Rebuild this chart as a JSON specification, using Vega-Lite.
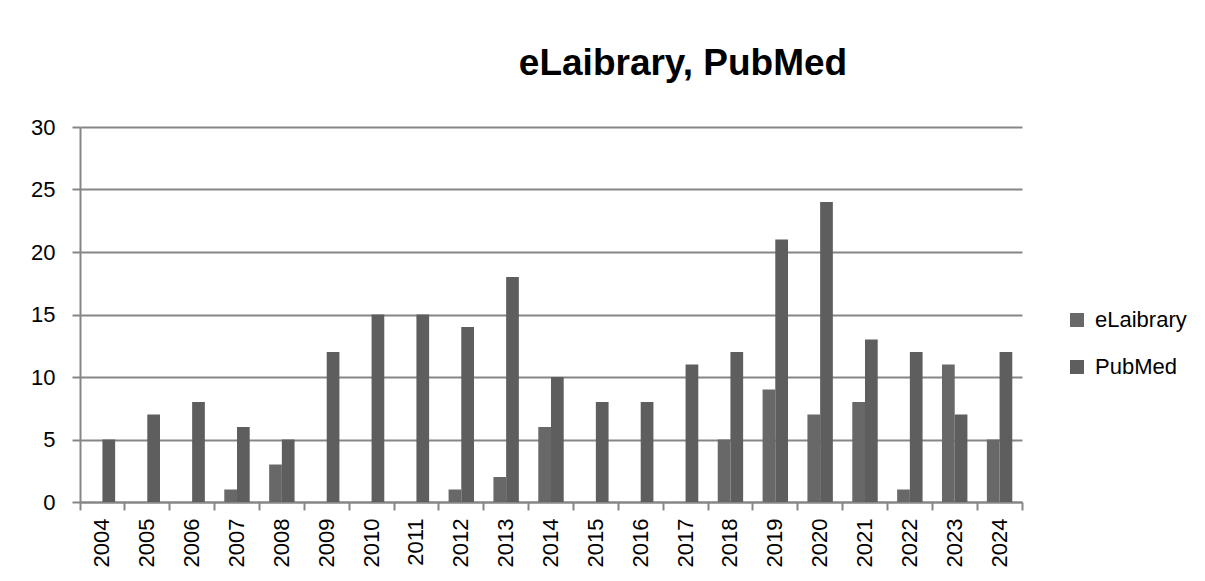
{
  "$schema": "https://vega.github.io/schema/vega-lite/v6.json",
  "width": 942,
  "height": 375,
  "autosize": {"type": "none"},
  "padding": {"left": 80, "top": 127, "right": 183, "bottom": 79},
  "background": "white",
  "title": {
    "text": "eLaibrary, PubMed",
    "fontSize": 37,
    "fontWeight": "bold",
    "font": "Liberation Sans",
    "color": "black",
    "anchor": "middle",
    "frame": "group",
    "dx": 132,
    "offset": 33
  },
  "data": {
    "values": [
      {"year": "2004", "source": "eLaibrary", "value": 0},
      {"year": "2005", "source": "eLaibrary", "value": 0},
      {"year": "2006", "source": "eLaibrary", "value": 0},
      {"year": "2007", "source": "eLaibrary", "value": 1},
      {"year": "2008", "source": "eLaibrary", "value": 3},
      {"year": "2009", "source": "eLaibrary", "value": 0},
      {"year": "2010", "source": "eLaibrary", "value": 0},
      {"year": "2011", "source": "eLaibrary", "value": 0},
      {"year": "2012", "source": "eLaibrary", "value": 1},
      {"year": "2013", "source": "eLaibrary", "value": 2},
      {"year": "2014", "source": "eLaibrary", "value": 6},
      {"year": "2015", "source": "eLaibrary", "value": 0},
      {"year": "2016", "source": "eLaibrary", "value": 0},
      {"year": "2017", "source": "eLaibrary", "value": 0},
      {"year": "2018", "source": "eLaibrary", "value": 5},
      {"year": "2019", "source": "eLaibrary", "value": 9},
      {"year": "2020", "source": "eLaibrary", "value": 7},
      {"year": "2021", "source": "eLaibrary", "value": 8},
      {"year": "2022", "source": "eLaibrary", "value": 1},
      {"year": "2023", "source": "eLaibrary", "value": 11},
      {"year": "2024", "source": "eLaibrary", "value": 5},
      {"year": "2004", "source": "PubMed", "value": 5},
      {"year": "2005", "source": "PubMed", "value": 7},
      {"year": "2006", "source": "PubMed", "value": 8},
      {"year": "2007", "source": "PubMed", "value": 6},
      {"year": "2008", "source": "PubMed", "value": 5},
      {"year": "2009", "source": "PubMed", "value": 12},
      {"year": "2010", "source": "PubMed", "value": 15},
      {"year": "2011", "source": "PubMed", "value": 15},
      {"year": "2012", "source": "PubMed", "value": 14},
      {"year": "2013", "source": "PubMed", "value": 18},
      {"year": "2014", "source": "PubMed", "value": 10},
      {"year": "2015", "source": "PubMed", "value": 8},
      {"year": "2016", "source": "PubMed", "value": 8},
      {"year": "2017", "source": "PubMed", "value": 11},
      {"year": "2018", "source": "PubMed", "value": 12},
      {"year": "2019", "source": "PubMed", "value": 21},
      {"year": "2020", "source": "PubMed", "value": 24},
      {"year": "2021", "source": "PubMed", "value": 13},
      {"year": "2022", "source": "PubMed", "value": 12},
      {"year": "2023", "source": "PubMed", "value": 7},
      {"year": "2024", "source": "PubMed", "value": 12}
    ]
  },
  "mark": {"type": "bar"},
  "encoding": {
    "x": {
      "field": "year",
      "type": "nominal",
      "scale": {"paddingInner": 0, "paddingOuter": 0},
      "axis": {
        "title": null,
        "labelAngle": -90,
        "labelFontSize": 22,
        "labelPadding": 8,
        "tickExtra": true,
        "bandPosition": 1,
        "tickSize": 8,
        "tickWidth": 2,
        "tickColor": "#868686",
        "domainColor": "#868686",
        "domainWidth": 2,
        "grid": false
      }
    },
    "xOffset": {
      "field": "source",
      "type": "nominal",
      "sort": ["eLaibrary", "PubMed"],
      "scale": {"paddingInner": 0, "paddingOuter": 0.765}
    },
    "y": {
      "field": "value",
      "type": "quantitative",
      "scale": {"domain": [0, 30], "nice": false},
      "axis": {
        "title": null,
        "values": [0, 5, 10, 15, 20, 25, 30],
        "grid": true,
        "gridColor": "#868686",
        "gridWidth": 2,
        "labelFontSize": 22,
        "labelPadding": 17,
        "tickSize": 8,
        "tickWidth": 2,
        "tickColor": "#868686",
        "domainColor": "#868686",
        "domainWidth": 2
      }
    },
    "color": {
      "field": "source",
      "type": "nominal",
      "sort": ["eLaibrary", "PubMed"],
      "scale": {"domain": ["eLaibrary", "PubMed"], "range": ["#686868", "#5e5e5e"]},
      "legend": {
        "title": null,
        "orient": "none",
        "legendX": 986,
        "legendY": 182,
        "symbolType": "square",
        "symbolSize": 196,
        "symbolStrokeWidth": 0,
        "labelFontSize": 22,
        "labelOffset": 7,
        "rowPadding": 25
      }
    }
  },
  "config": {
    "font": "Liberation Sans",
    "view": {"stroke": null},
    "axis": {"labelColor": "black", "labelFont": "Liberation Sans"},
    "legend": {"labelColor": "black", "labelFont": "Liberation Sans"}
  }
}
